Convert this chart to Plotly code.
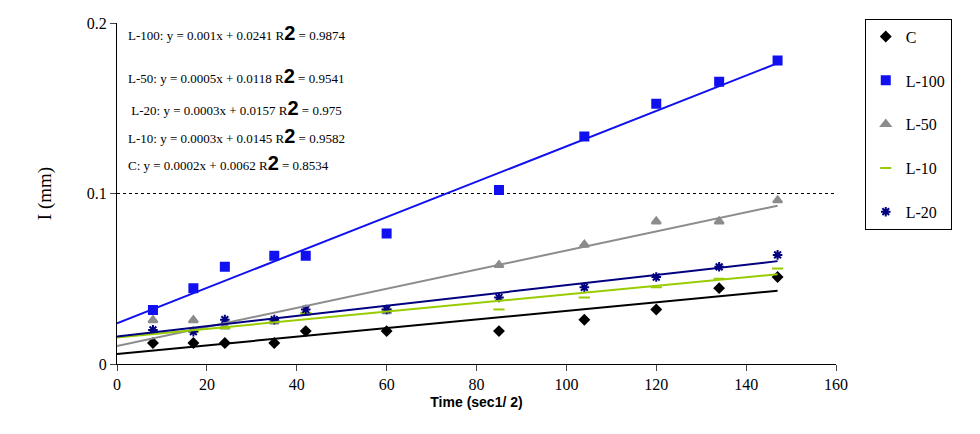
import numpy as np
import plotly.graph_objects as go

time = [8, 17, 24, 35, 42, 60, 85, 104, 120, 134, 147]
c_vals = [0.0123, 0.0123, 0.0123, 0.0123, 0.0193, 0.0193, 0.0193, 0.026, 0.032, 0.0445, 0.051]
l100_vals = [0.0316, 0.0444, 0.057, 0.0635, 0.0635, 0.0766, 0.102, 0.1335, 0.1526, 0.1655, 0.178]
l50_vals = [0.0257, 0.0257, 0.022, 0.025, 0.030, 0.031, 0.058, 0.070, 0.0836, 0.0836, 0.096]
l10_vals = [0.018, 0.019, 0.021, 0.025, 0.030, 0.032, 0.032, 0.039, 0.045, 0.050, 0.056]
l20_vals = [0.020, 0.019, 0.026, 0.026, 0.032, 0.032, 0.039, 0.045, 0.051, 0.057, 0.064]
y_ticks = [0, 0.1, 0.2]
y_tick_text = ["0", "0.1", "0.2"]

equations = [
    "L-100: y = 0.001x + 0.0241 R<span style='font-family:Arial;font-size:20px'><b>2</b></span> = 0.9874",
    "L-50: y = 0.0005x + 0.0118 R<span style='font-family:Arial;font-size:20px'><b>2</b></span> = 0.9541",
    " L-20: y = 0.0003x + 0.0157 R<span style='font-family:Arial;font-size:20px'><b>2</b></span> = 0.975",
    "L-10: y = 0.0003x + 0.0145 R<span style='font-family:Arial;font-size:20px'><b>2</b></span> = 0.9582",
    "C: y = 0.0002x + 0.0062 R<span style='font-family:Arial;font-size:20px'><b>2</b></span> = 0.8534",
]
eq_y = [0.194, 0.169, 0.150, 0.134, 0.118]

series = [
    ("C", c_vals, "#000000", "diamond", 7),
    ("L-100", l100_vals, "#1010F0", "square", 8),
    ("L-50", l50_vals, "#8C8C8C", "triangle-up", 8),
    ("L-10", l10_vals, "#99CC00", "line-ew-open", 8),
    ("L-20", l20_vals, "#000080", "asterisk-open", 8),
]

fig = go.Figure()
x_line = np.array([0, max(time)])
for name, vals, color, sym, size in series:
    fig.add_trace(go.Scatter(
        x=time, y=vals, mode="markers", name=name, legendgroup=name,
        marker=dict(symbol=sym, size=size, color=color,
                    line=dict(color=color, width=2))
    ))
for name, vals, color, sym, size in series:
    k, b = np.polyfit(time, vals, 1)
    fig.add_trace(go.Scatter(
        x=x_line, y=k * x_line + b, mode="lines", showlegend=False,
        line=dict(color=color, width=2), hoverinfo="skip"
    ))

for txt, yy in zip(equations, eq_y):
    fig.add_annotation(x=0.012, xref="paper", y=yy, yref="y", text=txt,
                       showarrow=False, xanchor="left",
                       font=dict(family="Liberation Serif", size=13, color="black"))

fig.update_layout(
    width=980, height=434,
    margin=dict(l=109, r=152, t=14, b=78),
    paper_bgcolor="white", plot_bgcolor="white",
    font=dict(family="Liberation Serif", size=16, color="black"),
    legend=dict(x=1.04, y=1.01, xanchor="left", yanchor="top",
                bordercolor="black", borderwidth=1, bgcolor="white",
                font=dict(size=16), tracegroupgap=20, itemwidth=30),
    xaxis=dict(range=[0, 160], dtick=20, showgrid=False, showline=True,
               linecolor="black", ticks="outside", ticklen=6, zeroline=False,
               automargin=False,
               title=dict(text="<b>Time (sec1/ 2)</b>",
                          font=dict(family="Liberation Sans", size=14), standoff=4)),
    yaxis=dict(range=[0, 0.2], tickvals=y_ticks, ticktext=y_tick_text, showline=True,
               linecolor="black", ticks="outside", ticklen=6, zeroline=False,
               automargin=False,
               showgrid=True, gridcolor="black", griddash="dot", gridwidth=1,
               title=dict(text="I (mm)", standoff=30)),
)

fig.write_html("out.html")
